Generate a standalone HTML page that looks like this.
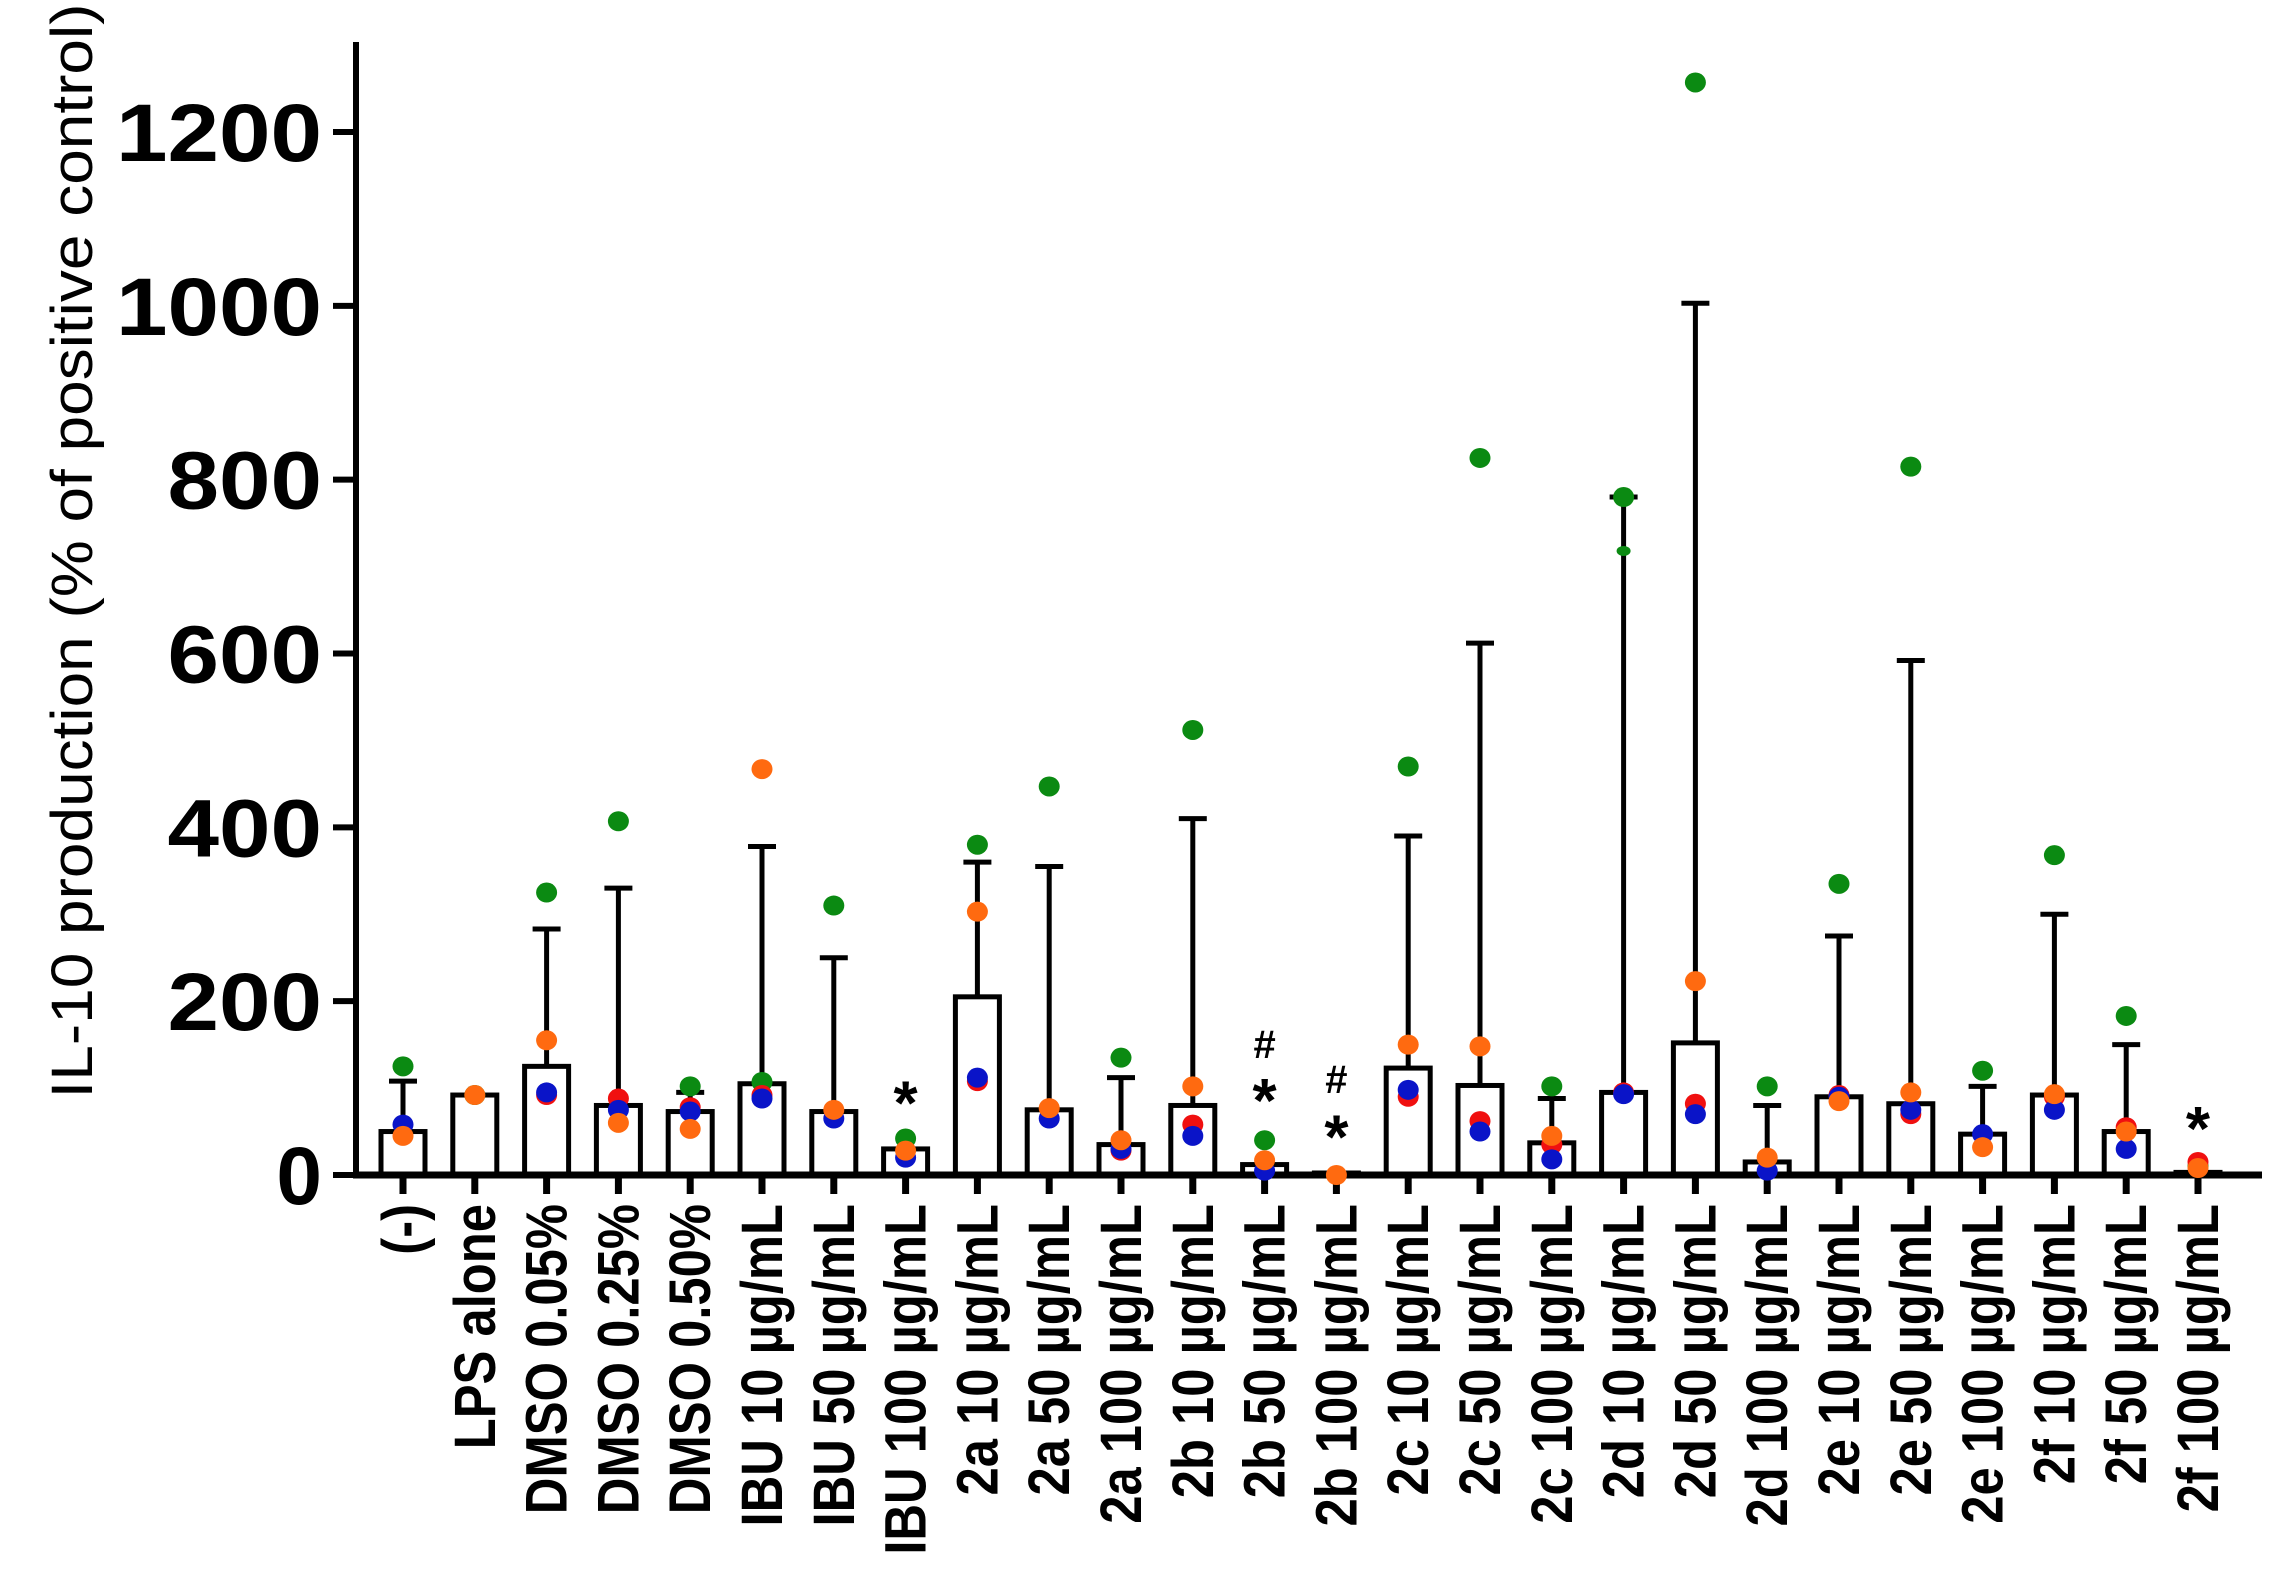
<!DOCTYPE html>
<html><head><meta charset="utf-8"><style>html,body{margin:0;padding:0;background:#fff}svg{display:block}</style></head>
<body>
<svg id="s" xmlns="http://www.w3.org/2000/svg" width="2274" height="1584" viewBox="0 0 2274 1584" font-family="Liberation Sans, Arial, sans-serif"></svg>
<script>
const s=document.getElementById('s');
const Y=v=>1175-v*(1175-132)/1200, X=i=>403+i*71.8;
let h='';
h+=`<line x1="356" y1="42" x2="356" y2="1178" stroke="#000" stroke-width="6"/>`;
h+=`<line x1="353" y1="1175" x2="2262" y2="1175" stroke="#000" stroke-width="7"/>`;
for(let v=0;v<=1200;v+=200){const y=Y(v);
h+=`<line x1="333" y1="${y}" x2="356" y2="${y}" stroke="#000" stroke-width="6"/>`;
const t=String(v);
h+=`<text x="322" y="${y+29}" text-anchor="end" font-size="82" font-weight="bold" ${t.length>1?`textLength="${t.length*51.5}" lengthAdjust="spacingAndGlyphs"`:''}>${t}</text>`;}
h+=`<text transform="translate(92,551) rotate(-90)" text-anchor="middle" font-size="58" textLength="1095" lengthAdjust="spacingAndGlyphs">IL-10 production (% of positive control)</text>`;
const L=["(-)","LPS alone","DMSO 0.05%","DMSO 0.25%","DMSO 0.50%","IBU 10 µg/mL","IBU 50 µg/mL","IBU 100 µg/mL","2a 10 µg/mL","2a 50 µg/mL","2a 100 µg/mL","2b 10 µg/mL","2b 50 µg/mL","2b 100 µg/mL","2c 10 µg/mL","2c 50 µg/mL","2c 100 µg/mL","2d 10 µg/mL","2d 50 µg/mL","2d 100 µg/mL","2e 10 µg/mL","2e 50 µg/mL","2e 100 µg/mL","2f 10 µg/mL","2f 50 µg/mL","2f 100 µg/mL"];
const D=[[50,108,125,45,null,58],[92,null,92,92,null,null],[125,283,325,155,92,95],[80,330,407,60,88,75],[73,95,102,53,78,73],[105,378,107,467,92,88],[73,250,310,75,null,65],[30,null,42,28,null,20],[205,360,380,303,108,112],[75,355,447,77,null,65],[35,112,135,40,28,30],[80,410,512,102,58,45],[12,null,40,17,null,5],[0,null,null,0,null,null],[123,390,470,150,90,98],[103,612,825,148,62,50],[37,88,102,45,35,18],[95,780,780,null,95,93],[152,1003,1257,223,82,70],[15,80,102,20,null,5],[90,275,335,85,92,90],[82,592,815,95,70,75],[47,102,120,32,null,47],[92,300,368,93,90,75],[50,150,183,50,55,30],[3,null,10,8,15,null]];
const col=["#0b8a12","#ff6a10","#f01010","#0a14c8"];
D.forEach((d,i)=>{const x=X(i);
 h+=`<line x1="${x}" y1="1175" x2="${x}" y2="1194" stroke="#000" stroke-width="7"/>`;
 if(d[1]!=null){h+=`<line x1="${x}" y1="${Y(d[1])}" x2="${x}" y2="${Y(d[0])}" stroke="#000" stroke-width="5"/><line x1="${x-14}" y1="${Y(d[1])}" x2="${x+14}" y2="${Y(d[1])}" stroke="#000" stroke-width="5"/>`;}
 const bh=Math.max(1175-Y(d[0]),2);
 h+=`<rect x="${x-22}" y="${1175-bh}" width="44" height="${bh}" fill="none" stroke="#000" stroke-width="5"/>`;
 [[2,0],[4,2],[5,3],[3,1]].forEach(([k,c])=>{if(d[k]!=null)h+=`<ellipse cx="${x}" cy="${Y(d[k])}" rx="10.5" ry="10" fill="${col[c]}"/>`;});
 h+=`<text transform="translate(${x+20},1204) rotate(-90) scale(0.875,1)" text-anchor="end" font-size="58" font-weight="bold">${L[i]}</text>`;
});
h+=`<ellipse cx="${X(17)}" cy="${Y(718)}" rx="7" ry="5" fill="#0b8a12"/>`;
const star=(i,v)=>`<text x="${X(i)}" y="${Y(v)+34}" text-anchor="middle" font-size="62" font-weight="bold">*</text>`;
const hash=(i,v)=>`<text x="${X(i)}" y="${Y(v)+16}" text-anchor="middle" font-size="40" font-weight="bold">#</text>`;
h+=star(7,97)+star(12,100)+hash(12,153)+star(13,58)+hash(13,113)+star(25,68);
s.innerHTML=h;
</script>
</body></html>
